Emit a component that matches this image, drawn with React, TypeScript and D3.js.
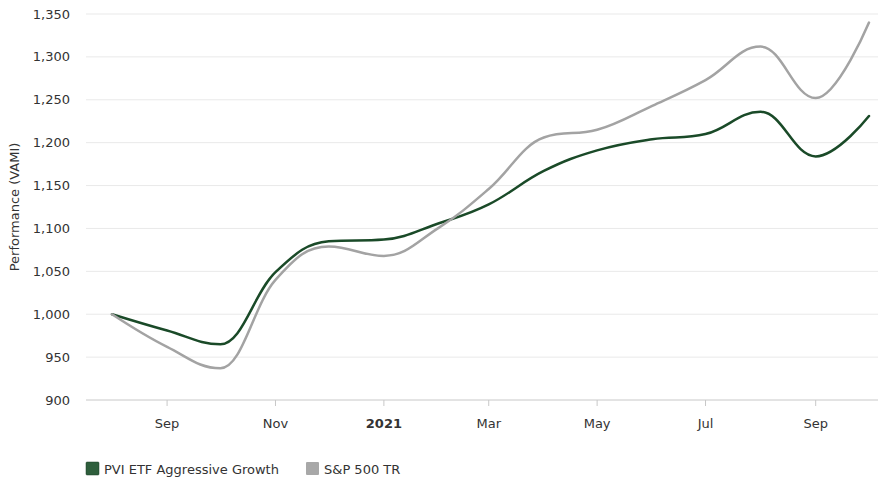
import React from "react";
import * as d3 from "d3";

const dates = [
  "2020-08-01", "2020-09-01", "2020-10-01", "2020-11-01", "2020-12-01",
  "2021-01-01", "2021-02-01", "2021-03-01", "2021-04-01", "2021-05-01",
  "2021-06-01", "2021-07-01", "2021-08-01", "2021-09-01", "2021-10-01",
];
const pviValues = [1000, 981, 965, 1049, 1085, 1087, 1106, 1128, 1167, 1191, 1204, 1210, 1236, 1184, 1231];
const spValues = [1000, 962, 937, 1040, 1079, 1068, 1101, 1146, 1206, 1215, 1243, 1273, 1312, 1252, 1340];
const yTicks = [900, 950, 1000, 1050, 1100, 1150, 1200, 1250, 1300, 1350];

const series = [
  { name: "PVI ETF Aggressive Growth", values: pviValues, color: "#1a4a28", swatch: "#2e5e3c" },
  { name: "S&P 500 TR", values: spValues, color: "#a3a3a3", swatch: "#a8a8a8" },
];

const W = 888;
const H = 479;
const margin = { top: 14, right: 10, bottom: 79, left: 86 };
const innerW = W - margin.left - margin.right;
const innerH = H - margin.top - margin.bottom;
const FONT = "DejaVu Sans, Verdana, sans-serif";

// Highcharts-style spline: smoothing 1.5, clamped control points
function splinePath(pts: [number, number][]): string {
  const p = d3.path();
  const sm = 1.5;
  const den = sm + 1;
  const ctrl = pts.map(([x, y], i) => {
    if (i === 0 || i === pts.length - 1) return { lx: x, ly: y, rx: x, ry: y };
    const [px, py] = pts[i - 1];
    const [nx, ny] = pts[i + 1];
    const lx = (sm * x + px) / den;
    let ly = (sm * y + py) / den;
    const rx = (sm * x + nx) / den;
    let ry = (sm * y + ny) / den;
    if (rx !== lx) {
      const corr = ((ry - ly) * (rx - x)) / (rx - lx) + y - ry;
      ly += corr;
      ry += corr;
    }
    if (ly > py && ly > y) {
      ly = Math.max(py, y);
      ry = 2 * y - ly;
    } else if (ly < py && ly < y) {
      ly = Math.min(py, y);
      ry = 2 * y - ly;
    }
    if (ry > ny && ry > y) {
      ry = Math.max(ny, y);
      ly = 2 * y - ry;
    } else if (ry < ny && ry < y) {
      ry = Math.min(ny, y);
      ly = 2 * y - ry;
    }
    return { lx, ly, rx, ry };
  });
  p.moveTo(pts[0][0], pts[0][1]);
  for (let i = 1; i < pts.length; i++) {
    const a = ctrl[i - 1];
    const b = ctrl[i];
    p.bezierCurveTo(a.rx, a.ry, b.lx, b.ly, pts[i][0], pts[i][1]);
  }
  return p.toString();
}

export default function App() {
  const parsed = dates.map((d) => d3.timeParse("%Y-%m-%d")(d) as Date);

  const x = d3
    .scaleTime()
    .domain([parsed[0], parsed[parsed.length - 1]])
    .range([26, innerW - 9]);

  const y = d3.scaleLinear().domain([900, 1350]).range([innerH, 0]);

  const xTicks = x.ticks(d3.timeMonth.every(2) as d3.TimeInterval);
  const fmt = (d: Date) => (d.getMonth() === 0 ? d3.timeFormat("%Y")(d) : d3.timeFormat("%b")(d));

  return (
    <svg
      width={W}
      height={H}
      style={{ position: "absolute", left: 0, top: 0, background: "#fff" }}
      fontFamily={FONT}
    >
      <g transform={`translate(${margin.left},${margin.top})`}>
        {yTicks.map((t) => (
          <g key={t}>
            {t !== 900 && (
              <line x1={0} x2={innerW} y1={y(t)} y2={y(t)} stroke="#e9e9e9" strokeWidth={1} />
            )}
            <text x={-16} y={y(t)} dy="0.35em" textAnchor="end" fontSize={13} fill="#333">
              {d3.format(",")(t)}
            </text>
          </g>
        ))}
        <line x1={0} x2={innerW} y1={innerH} y2={innerH} stroke="#c8c8c8" strokeWidth={1} />
        {xTicks.map((t) => (
          <g key={t.getTime()} transform={`translate(${x(t)},0)`}>
            <line y1={innerH} y2={innerH + 6} stroke="#c8c8c8" strokeWidth={1} />
            <text
              y={innerH + 28}
              textAnchor="middle"
              fontSize={13}
              fill="#333"
              fontWeight={t.getMonth() === 0 ? "bold" : "normal"}
            >
              {fmt(t)}
            </text>
          </g>
        ))}
        {series.map((s) => (
          <path
            key={s.name}
            d={splinePath(s.values.map((v, i) => [x(parsed[i]), y(v)] as [number, number]))}
            fill="none"
            stroke={s.color}
            strokeWidth={2.5}
            strokeLinejoin="round"
            strokeLinecap="round"
          />
        ))}
      </g>
      <text
        transform={`translate(19,${margin.top + innerH / 2}) rotate(-90)`}
        textAnchor="middle"
        fontSize={13}
        fill="#333"
      >
        Performance (VAMI)
      </text>
      <g transform={`translate(${margin.left},462)`}>
        <rect x={0} y={0} width={13} height={13} rx={1} fill={series[0].swatch} stroke="#1b3f25" strokeWidth={0.5} />
        <text x={18} y={7} dy="0.35em" fontSize={13} fill="#333">
          {series[0].name}
        </text>
        <rect x={220} y={0} width={13} height={13} rx={1} fill={series[1].swatch} />
        <text x={238} y={7} dy="0.35em" fontSize={13} fill="#333">
          {series[1].name}
        </text>
      </g>
    </svg>
  );
}
